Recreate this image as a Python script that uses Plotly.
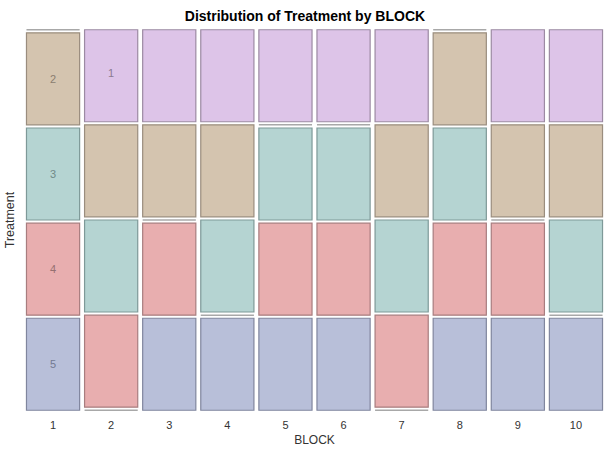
import plotly.graph_objects as go

# treatments found in each block (one unit each)
blocks = [1, 2, 3, 4, 5, 6, 7, 8, 9, 10]
treatments = [1, 2, 3, 4, 5]
block_treatments = [
    [2, 3, 4, 5],
    [1, 2, 3, 4],
    [1, 2, 4, 5],
    [1, 2, 3, 5],
    [1, 3, 4, 5],
    [1, 3, 4, 5],
    [1, 2, 3, 4],
    [2, 3, 4, 5],
    [1, 2, 4, 5],
    [1, 2, 3, 5],
]

fills = {1: "#DDC4E8", 2: "#D4C4AF", 3: "#B5D4D2", 4: "#E8AEAF", 5: "#B8BFD9"}
edges = {1: "#9C8AA3", 2: "#9A8D7E", 3: "#7E9998", 4: "#A87D7F", 5: "#80869E"}
label_col = {1: "#8A7B90", 2: "#8A7E70", 3: "#708A88", 4: "#957071", 5: "#737A92"}

gap = 0.0085
total = 1 + gap * (len(treatments) - 1)

# compute cell spans top-down for every block
cells = {t: [] for t in treatments}   # (block, base, height)
empty = {t: [] for t in treatments}   # (block, y)
for b, tr in zip(blocks, block_treatments):
    n = len(tr)
    y_top = total
    for t in treatments:
        cnt = tr.count(t)
        h = cnt / n
        if cnt > 0:
            cells[t].append((b, y_top - h, h))
        else:
            empty[t].append((b, y_top))
        y_top -= h + gap

fig = go.Figure()
bw = 0.915
for t in treatments:
    xs = [c[0] for c in cells[t]]
    fig.add_trace(go.Bar(
        x=xs, y=[c[2] for c in cells[t]], base=[c[1] for c in cells[t]],
        width=bw, marker=dict(color=fills[t], line=dict(color=edges[t], width=1.2)),
        showlegend=False, hoverinfo="skip"))
    # zero-count categories drawn as a thin line
    lx, ly = [], []
    for b, y in empty[t]:
        lx += [b - bw / 2, b + bw / 2, None]
        ly += [y, y, None]
    if lx:
        fig.add_trace(go.Scatter(x=lx, y=ly, mode="lines",
                                 line=dict(color="#A8A8A8", width=1.5),
                                 showlegend=False, hoverinfo="skip", cliponaxis=False))

# label each treatment in the first block where it appears
for t in treatments:
    b, base, h = cells[t][0]
    fig.add_annotation(x=b, y=base + h / 2, text=str(t), showarrow=False,
                       yshift=3 if t == 1 else 0,
                       font=dict(size=11, color=label_col[t]))

fig.update_layout(
    width=613, height=460,
    margin=dict(l=24, r=8, t=29, b=49),
    paper_bgcolor="white", plot_bgcolor="white",
    barmode="overlay",
    font=dict(family="Liberation Sans, Arial, sans-serif", color="#333333"),
    title=dict(text="<b>Distribution of Treatment by BLOCK</b>", x=0.4975, y=0.966,
               xanchor="center", yanchor="middle", font=dict(size=14, color="black")),
    xaxis=dict(range=[0.5, 10.5], tickvals=blocks, ticktext=[str(b) for b in blocks],
               showgrid=False, zeroline=False, showline=False, ticks="", automargin=False,
               ticklabelstandoff=6,
               tickfont=dict(size=11, color="#333333"),
               title=dict(text="BLOCK", font=dict(size=12, color="#333333"), standoff=5)),
    yaxis=dict(range=[-0.002, total + 0.002], showticklabels=False, showgrid=False,
               zeroline=False, showline=False, ticks="", automargin=False,
               title=dict(text="Treatment", font=dict(size=12.5, color="#333333"), standoff=5)),
)

fig.write_html("out.html", config={"displayModeBar": False},
               post_script="document.body.style.margin='0';")
